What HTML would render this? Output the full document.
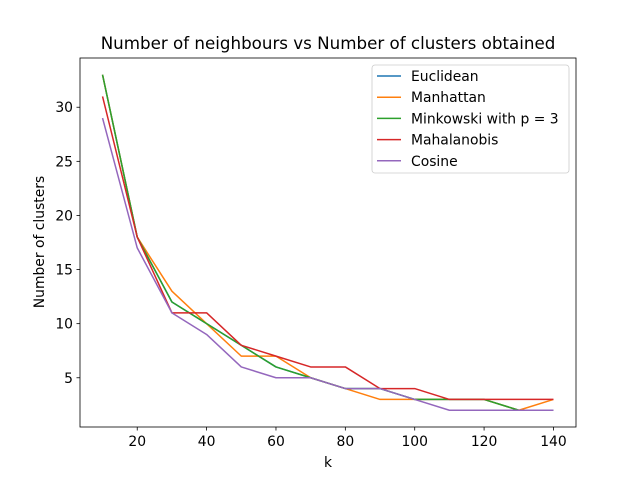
<!DOCTYPE html>
<html><head><meta charset="utf-8"><style>
body{margin:0;background:#fff;}
svg{font-family:"DejaVu Sans","Liberation Sans",sans-serif;}
</style></head><body>
<svg id="chart" width="640" height="480">
<rect width="640" height="480" fill="#fff"/>
<text x="328" y="49" text-anchor="middle" font-size="16.7">Number of neighbours vs Number of clusters obtained</text>
<g id="plot"></g>
<text x="328" y="467" text-anchor="middle" font-size="13.9">k</text>
<text transform="translate(44,242) rotate(-90)" text-anchor="middle" font-size="13.9">Number of clusters</text>
</svg>
<script>
const ks=[10,20,30,40,50,60,70,80,90,100,110,120,130,140];
const euclidean=[33,18,12,10,8,6,5,4,4,3,3,3,2,2];
const manhattan=[33,18,13,10,7,7,5,4,3,3,3,3,2,3];
const minkowski=[33,18,12,10,8,6,5,4,4,3,3,3,2,2];
const mahalanobis=[31,18,11,11,8,7,6,6,4,4,3,3,3,3];
const cosine=[29,17,11,9,6,5,5,4,4,3,2,2,2,2];
const xTicks=[20,40,60,80,100,120,140];
const yTicks=[5,10,15,20,25,30];
const seriesNames=["Euclidean","Manhattan","Minkowski with p = 3","Mahalanobis","Cosine"];
const seriesData=[euclidean,manhattan,minkowski,mahalanobis,cosine];
const colors=["#1f77b4","#ff7f0e","#2ca02c","#d62728","#9467bd"];
const L=80,R=576,T=58,B=427;
const xmin=3.5,xmax=146.5,ymin=0.45,ymax=34.55;
const X=k=>L+(k-xmin)/(xmax-xmin)*(R-L);
const Y=v=>B-(v-ymin)/(ymax-ymin)*(B-T);
const NS="http://www.w3.org/2000/svg";
const g=document.getElementById('plot');
function mk(t,a,p){const e=document.createElementNS(NS,t);for(const k in a)e.setAttribute(k,a[k]);(p||g).appendChild(e);return e;}
seriesData.forEach((d,i)=>{
 const pl=mk('polyline',{points:d.map((v,j)=>X(ks[j])+','+Y(v)).join(' '),fill:'none',stroke:colors[i],'stroke-width':1.5,'stroke-linejoin':'round'});
 
 
});
const frame=mk('rect',{x:L,y:T,width:R-L,height:B-T,fill:'none',stroke:'#000','stroke-width':0.8});


xTicks.forEach(t=>{
 mk('line',{x1:X(t),x2:X(t),y1:B,y2:B+3.5,stroke:'#000','stroke-width':0.8});
 const tx=mk('text',{x:X(t),y:B+19,'text-anchor':'middle','font-size':13.9});
 tx.textContent=t;
 
 
});
yTicks.forEach(t=>{
 mk('line',{x1:L-3.5,x2:L,y1:Y(t),y2:Y(t),stroke:'#000','stroke-width':0.8});
 const tx=mk('text',{x:L-7,y:Y(t)+5,'text-anchor':'end','font-size':13.9});
 tx.textContent=t;
 
 
});
const lg=mk('g',{});


mk('rect',{x:372,y:65,width:197,height:108,rx:3,fill:'#fff','fill-opacity':0.8,stroke:'#ccc','stroke-width':0.8},lg);
seriesNames.forEach((n,i)=>{
 const y=76+i*21.2;
 mk('line',{x1:377,x2:401,y1:y,y2:y,stroke:colors[i],'stroke-width':1.5},lg);
 const tx=mk('text',{x:411,y:y+5,'font-size':13.9},lg);
 tx.textContent=n;
 
 
});
</script>
</body></html>
